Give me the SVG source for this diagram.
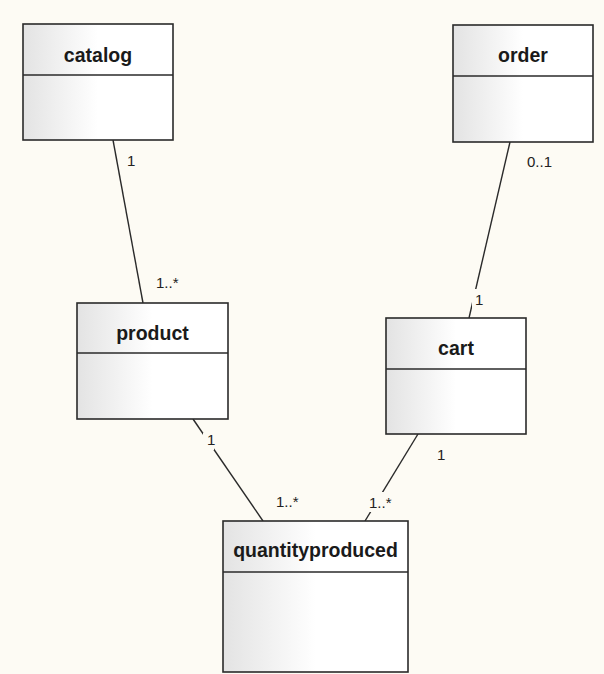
<svg xmlns="http://www.w3.org/2000/svg" width="604" height="674" viewBox="0 0 604 674">
<defs>
<linearGradient id="g" x1="0" y1="0" x2="1" y2="0">
<stop offset="0" stop-color="#e3e3e3"/>
<stop offset="0.5" stop-color="#ffffff"/>
<stop offset="1" stop-color="#ffffff"/>
</linearGradient>
</defs>
<style>
.box{fill:url(#g);stroke:#2a2a2a;stroke-width:1.6}
.div{stroke:#2a2a2a;stroke-width:1.6}
.name{font-family:"Liberation Sans",Arial,sans-serif;font-weight:bold;font-size:19.5px;fill:#1a1a1a;text-anchor:middle}
.conn line{stroke:#2a2a2a;stroke-width:1.4}
.lbl{font-family:"Liberation Sans",Arial,sans-serif;font-size:15px;fill:#222}
.bg{fill:#fdfbf4}
</style>
<rect width="604" height="674" fill="#fdfbf4"/>
<g id="connectors" class="conn">
<line x1="113" y1="140" x2="143" y2="303"/>
<line x1="510" y1="142" x2="469" y2="318"/>
<line x1="193" y1="419" x2="263" y2="521"/>
<line x1="418" y1="434" x2="365" y2="521"/>
</g>
<g id="labels">
<text class="lbl" x="127" y="166">1</text>
<text class="lbl" x="156" y="288">1..*</text>
<text class="lbl" x="527" y="167">0..1</text>
<rect class="bg" x="472" y="289" width="10" height="20"/>
<text class="lbl" x="475" y="305">1</text>
<rect class="bg" x="203" y="433" width="11" height="17"/>
<text class="lbl" x="207" y="445">1</text>
<text class="lbl" x="276" y="507">1..*</text>
<rect class="bg" x="367" y="492" width="28" height="20"/>
<text class="lbl" x="369" y="508">1..*</text>
<text class="lbl" x="437" y="460">1</text>
</g>
<g id="catalog">
<rect class="box" x="23" y="24" width="150" height="116"/>
<line class="div" x1="23" y1="75" x2="173" y2="75"/>
<text class="name" x="98" y="62">catalog</text>
</g>
<g id="order">
<rect class="box" x="453" y="25" width="140" height="117"/>
<line class="div" x1="453" y1="76" x2="593" y2="76"/>
<text class="name" x="523" y="62">order</text>
</g>
<g id="product">
<rect class="box" x="77" y="303" width="151" height="116"/>
<line class="div" x1="77" y1="353" x2="228" y2="353"/>
<text class="name" x="152.5" y="340">product</text>
</g>
<g id="cart">
<rect class="box" x="386" y="318" width="140" height="116"/>
<line class="div" x1="386" y1="369" x2="526" y2="369"/>
<text class="name" x="456" y="355">cart</text>
</g>
<g id="quantityproduced">
<rect class="box" x="223" y="521" width="185" height="151"/>
<line class="div" x1="223" y1="572" x2="408" y2="572"/>
<text class="name" x="315.5" y="557">quantityproduced</text>
</g>
</svg>
